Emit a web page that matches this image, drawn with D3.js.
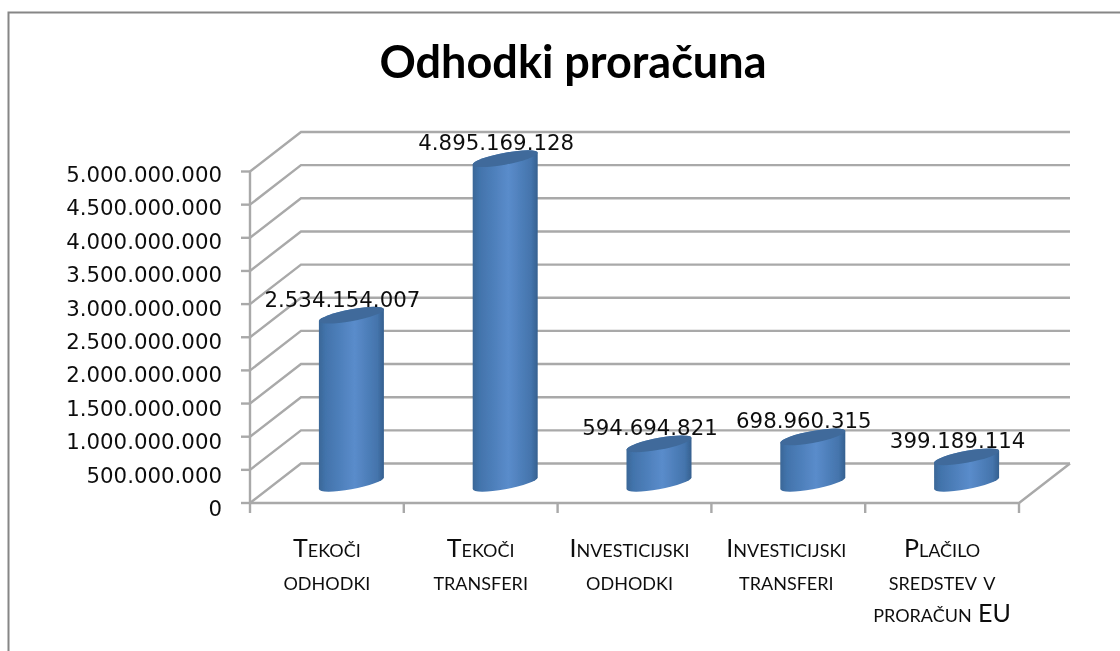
<!DOCTYPE html>
<html>
<head>
<meta charset="utf-8">
<script src="https://cdn.jsdelivr.net/npm/d3@7"></script>
<style>
  html, body { margin: 0; padding: 0; background: #fff; }
  svg { display: block; }
  .cat { font-family: Lato, sans-serif; font-size: 25px; font-variant: small-caps; fill: #111; text-anchor: middle; }
  .val { font-family: "DejaVu Sans", sans-serif; font-size: 21.3px; fill: #111; text-anchor: middle; }
  .tick-label { font-family: "DejaVu Sans", sans-serif; font-size: 21.3px; fill: #111; text-anchor: end; }
</style>
</head>
<body>
<svg id="chart" width="1120" height="651"></svg>
<script>
// Chart data
const categories = [
    ['Tekoči', 'odhodki'],
    ['Tekoči', 'transferi'],
    ['Investicijski', 'odhodki'],
    ['Investicijski', 'transferi'],
    ['Plačilo', 'sredstev v', 'proračun EU']
];
const values = [2534154007, 4895169128, 594694821, 698960315, 399189114];
const valueLabels = ['2.534.154.007', '4.895.169.128', '594.694.821', '698.960.315', '399.189.114'];
const tickValues = [0, 500000000, 1000000000, 1500000000, 2000000000, 2500000000, 3000000000, 3500000000, 4000000000, 4500000000, 5000000000];
const chartTitle = 'Odhodki proračuna';

// Layout
const plotLeft = 250, plotRight = 1019, plotBottom = 503, plotTop = 171.5;
const depthX = 51, depthY = -39.5;
const gridColor = '#a9a9a9';
const catNudge = [0, 0, -5, -2, 0];

const svg = d3.select('#chart');

const xScale = d3.scaleBand()
    .domain(d3.range(categories.length))
    .range([plotLeft, plotRight]);
const yScale = d3.scaleLinear()
    .domain([0, 5000000000])
    .range([plotBottom, plotTop]);
// Tick labels sit a bit lower than their ticks and spread slightly wider
const labelY = d3.scaleLinear()
    .domain([0, 5000000000])
    .range([516, 182]);

// Gradients and soft edge
const defs = svg.append('defs');
const grad = defs.append('linearGradient').attr('id', 'cyl').attr('x1', 0).attr('x2', 1).attr('y1', 0).attr('y2', 0);
[[0, '#3a6797'], [0.1, '#4273ab'], [0.55, '#5a8ccb'], [0.9, '#4474ac'], [1, '#35608f']].forEach(s => {
    grad.append('stop').attr('offset', s[0]).attr('stop-color', s[1]);
});
defs.append('filter').attr('id', 'soft')
    .append('feGaussianBlur').attr('stdDeviation', 0.7);
defs.append('filter').attr('id', 'softText')
    .append('feGaussianBlur').attr('stdDeviation', 0.35);

// Outer frame, runs off the right and bottom of the picture
svg.append('rect')
    .attr('x', 8.5).attr('y', 12.5)
    .attr('width', 1200).attr('height', 680)
    .attr('fill', '#fff').attr('stroke', '#868686').attr('stroke-width', 2);

svg.append('text')
    .attr('x', 573).attr('y', 78)
    .attr('text-anchor', 'middle')
    .attr('filter', 'url(#softText)')
    .style('font-family', 'Lato, sans-serif')
    .style('font-size', '45px')
    .style('font-weight', 700)
    .style('fill', '#000')
    .text(chartTitle);

const grid = svg.append('g').attr('fill', 'none').attr('stroke', gridColor).attr('stroke-width', 2.4).attr('filter', 'url(#soft)');

// Walls: side diagonal plus back line per tick
tickValues.forEach(v => {
    const y = yScale(v);
    grid.append('path').attr('d', d3.line()([[plotLeft, y], [plotLeft + depthX, y + depthY], [plotRight + depthX, y + depthY]]));
    grid.append('line').attr('x1', plotLeft - 9).attr('x2', plotLeft).attr('y1', y).attr('y2', y);
});
grid.append('line').attr('x1', plotLeft).attr('x2', plotLeft).attr('y1', yScale(5000000000)).attr('y2', plotBottom);
grid.append('path').attr('d', d3.line()([[plotLeft, plotBottom], [plotRight, plotBottom], [plotRight + depthX, plotBottom + depthY]]));

// X ticks at band edges
d3.range(categories.length + 1).forEach(i => {
    const x = plotLeft + i * xScale.bandwidth();
    grid.append('line').attr('x1', x).attr('x2', x).attr('y1', plotBottom).attr('y2', plotBottom + 10);
});

const tickText = svg.append('g').attr('filter', 'url(#softText)');
tickText.selectAll('.tick-label').data(tickValues).enter().append('text')
    .attr('class', 'tick-label')
    .attr('x', 222)
    .attr('y', d => labelY(d))
    .text(d => d3.format(',')(d).replace(/,/g, '.'));

// Cylinders sit in the middle of the floor depth, sheared so the sides stay vertical
const rx = 32.5, ry = 6, shear = -0.18;
const cyl = svg.selectAll('.cyl').data(values).enter().append('g')
    .attr('class', 'cyl')
    .attr('filter', 'url(#soft)');

cyl.each(function(d, i) {
    const cx = xScale(i) + xScale.bandwidth() / 2 + depthX / 2 - 1;
    const y0 = plotBottom + depthY / 2;
    const y1 = yScale(d) + depthY / 2;
    const g = d3.select(this).append('g')
        .attr('transform', `matrix(1,${shear},0,1,${cx},0)`);
    const body = `M${-rx},${y1} L${-rx},${y0}`
        + ` A${rx},${ry} 0 0 0 ${rx},${y0}`
        + ` L${rx},${y1}`
        + ` A${rx},${ry} 0 0 0 ${-rx},${y1} Z`;
    g.append('path').attr('d', body).attr('fill', 'url(#cyl)');
    g.append('ellipse')
        .attr('cy', y1)
        .attr('rx', rx).attr('ry', ry)
        .attr('fill', '#3f6b9b');
});

// Data labels
const valText = svg.append('g').attr('filter', 'url(#softText)');
valText.selectAll('.val').data(values).enter().append('text')
    .attr('class', 'val')
    .attr('x', (d, i) => xScale(i) + xScale.bandwidth() / 2 + 15.5)
    .attr('y', d => yScale(d) + depthY / 2 - 8.5)
    .text((d, i) => valueLabels[i]);

// Category labels
const catText = svg.append('g').attr('filter', 'url(#softText)');
const cats = catText.selectAll('.cat').data(categories).enter().append('text')
    .attr('class', 'cat')
    .attr('x', (d, i) => xScale(i) + xScale.bandwidth() / 2 + catNudge[i]);
cats.selectAll('tspan').data(d => d).enter().append('tspan')
    .attr('x', function() { return d3.select(this.parentNode).attr('x'); })
    .attr('y', (d, i) => 557 + i * 32.5)
    .text(d => d);
</script>
</body>
</html>
